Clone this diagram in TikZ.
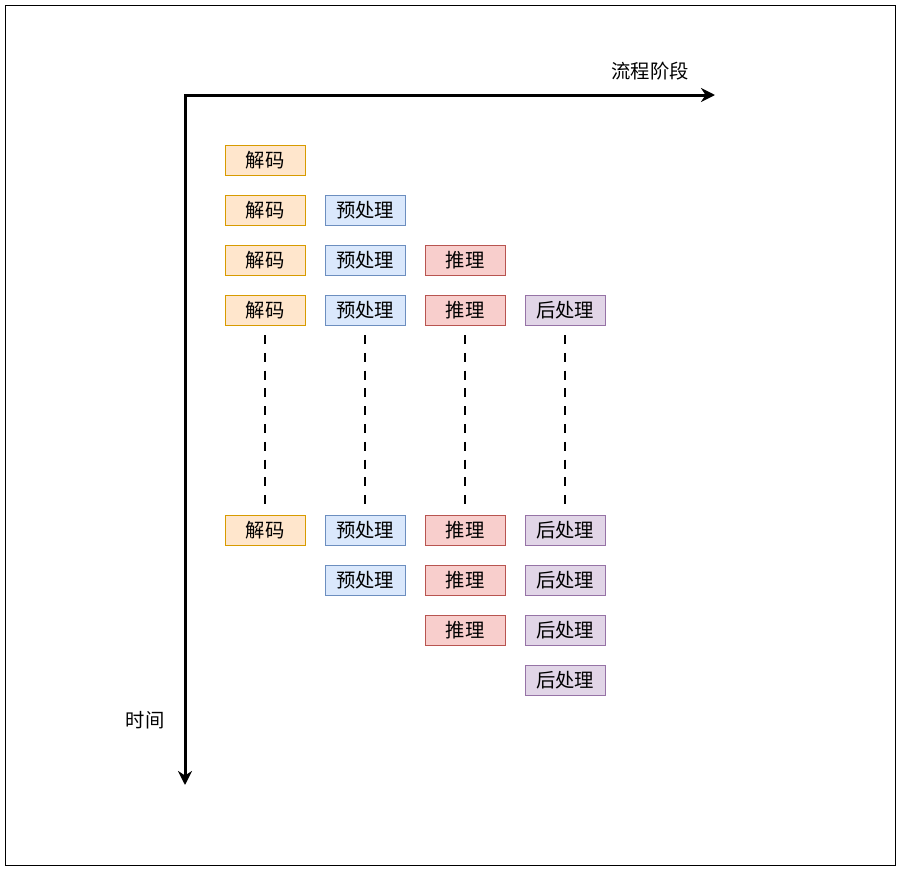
\documentclass[tikz,border=0pt]{standalone}
\usepackage{fontspec}
\newfontfamily\cjk{Noto Sans CJK SC}
\usepackage{xcolor}
\usepackage{tikz}
\usetikzlibrary{arrows.meta,positioning,calc}
\definecolor{decfill}{HTML}{FFE6CC}
\definecolor{decline}{HTML}{D79B00}
\definecolor{prefill}{HTML}{DAE8FC}
\definecolor{preline}{HTML}{6C8EBF}
\definecolor{inffill}{HTML}{F8CECC}
\definecolor{infline}{HTML}{B85450}
\definecolor{postfill}{HTML}{E1D5E7}
\definecolor{postline}{HTML}{9673A6}

\begin{document}
\begin{tikzpicture}[x=0.75pt, y=-0.75pt, node distance=15pt,
  phase/.style={draw, line width=0.75pt, minimum width=60pt, minimum height=22.5pt,
    inner sep=0pt, outer sep=0pt, font=\cjk\fontsize{14.5}{16}\selectfont},
  dec/.style={phase, draw=decline, fill=decfill},
  pre/.style={phase, draw=preline, fill=prefill},
  inf/.style={phase, draw=infline, fill=inffill},
  post/.style={phase, draw=postline, fill=postfill},
  lab/.style={font=\cjk\fontsize{14.5}{16}\selectfont, inner sep=0pt},
  axis/.style={line width=2.25pt, line join=miter,
    arrows={Stealth[length=10.5pt, width=10.5pt]-Stealth[length=10.5pt, width=10.5pt]}},
  dots/.style={line width=2.1pt, dash pattern=on 6.75pt off 6.6pt}]
\useasboundingbox (0,0) rectangle (901,871);
\draw[line width=0.75pt] (5,5) rectangle (895,865);
% axes
\coordinate (origin) at (185,95);
\coordinate (xend) at (715,95);
\coordinate (yend) at (185,785);
\draw[axis] (yend) -- (origin) -- (xend);
\node[lab] (stage) at (650,71) {流程阶段};
\node[lab] (time) at (145,720) {时间};
% first block of rows
\node[dec] (dec1) at (265,160) {解码};
\node[dec, below=of dec1] (dec2) {解码};
\node[dec, below=of dec2] (dec3) {解码};
\node[dec, below=of dec3] (dec4) {解码};
\node[pre, right=of dec2] (pre1) {预处理};
\node[pre, below=of pre1] (pre2) {预处理};
\node[pre, below=of pre2] (pre3) {预处理};
\node[inf, right=of pre2] (inf1) {推理};
\node[inf, below=of inf1] (inf2) {推理};
\node[post, right=of inf2] (post1) {后处理};
% second block of rows
\node[dec, below=142.5pt of dec4] (dec5) {解码};
\node[pre, right=of dec5] (pre4) {预处理};
\node[pre, below=of pre4] (pre5) {预处理};
\node[inf, right=of pre4] (inf3) {推理};
\node[inf, below=of inf3] (inf4) {推理};
\node[inf, below=of inf4] (inf5) {推理};
\node[post, right=of inf3] (post2) {后处理};
\node[post, below=of post2] (post3) {后处理};
\node[post, below=of post3] (post4) {后处理};
\node[post, below=of post4] (post5) {后处理};
% dotted continuation
\draw[dots] ([yshift=-7.5pt]dec4.south) -- ([yshift=7.5pt]dec5.north);
\draw[dots] ([yshift=-7.5pt]pre3.south) -- ([yshift=7.5pt]pre4.north);
\draw[dots] ([yshift=-7.5pt]inf2.south) -- ([yshift=7.5pt]inf3.north);
\draw[dots] ([yshift=-7.5pt]post1.south) -- ([yshift=7.5pt]post2.north);
\end{tikzpicture}
\end{document}
